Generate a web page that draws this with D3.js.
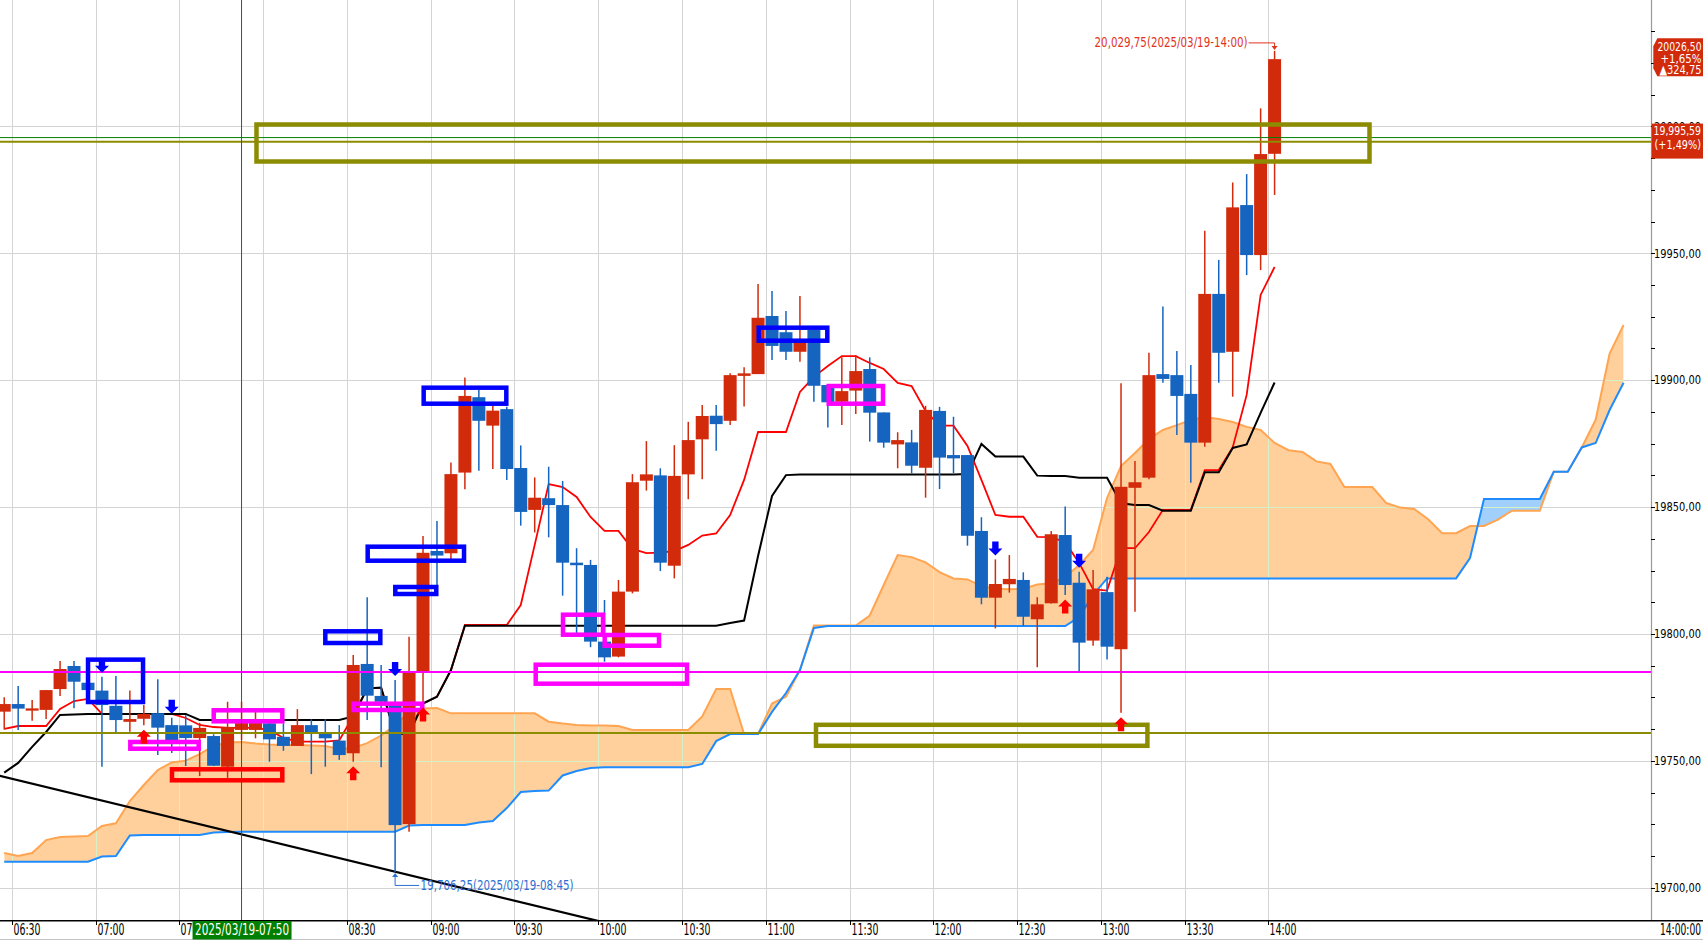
<!DOCTYPE html>
<html>
<head>
<meta charset="utf-8">
<script src="https://cdn.jsdelivr.net/npm/d3@7/dist/d3.min.js"></script>
<style>
  html, body { margin: 0; padding: 0; background: #fff; overflow: hidden; }
  svg { display: block; }
</style>
</head>
<body>
<script>
// ---- data (5 minute candles, 2025/03/19) ----
const times = ["06:25","06:30","06:35","06:40","06:45","06:50","06:55",
  "07:00","07:05","07:10","07:15","07:20","07:25","07:30","07:35","07:40","07:45","07:50","07:55",
  "08:00","08:05","08:10","08:15","08:20","08:25","08:30","08:35","08:40","08:45","08:50","08:55",
  "09:00","09:05","09:10","09:15","09:20","09:25","09:30","09:35","09:40","09:45","09:50","09:55",
  "10:00","10:05","10:10","10:15","10:20","10:25","10:30","10:35","10:40","10:45","10:50","10:55",
  "11:00","11:05","11:10","11:15","11:20","11:25","11:30","11:35","11:40","11:45","11:50","11:55",
  "12:00","12:05","12:10","12:15","12:20","12:25","12:30","12:35","12:40","12:45","12:50","12:55",
  "13:00","13:05","13:10","13:15","13:20","13:25","13:30","13:35","13:40","13:45","13:50","13:55",
  "14:00"];

const open = [19769.4,19772.4,19769.8,19770.1,19778.3,19787.4,19780.8,19777.7,19771.7,19765.4,
  19766.6,19768.8,19764.1,19764.0,19759.0,19759.8,19747.7,19762.2,19762.2,19764.8,
  19759.5,19755.9,19764.1,19761.2,19758.0,19753.0,19788.2,19775.6,19772.8,19725.1,
  19784.7,19832.7,19831.8,19863.6,19893.3,19882.1,19888.6,19865.4,19848.9,19853.5,
  19850.8,19828.1,19827.2,19797.0,19791.1,19816.7,19860.4,19862.5,19826.9,19862.9,
  19876.7,19886.0,19884.0,19901.7,19902.4,19925.3,19918.9,19911.2,19919.8,19898.1,
  19891.5,19895.9,19904.4,19887.3,19874.7,19875.5,19865.5,19887.9,19870.5,19870.5,
  19840.6,19814.3,19819.6,19821.3,19805.8,19812.1,19839.0,19820.2,19797.4,19816.5,
  19794.0,19857.6,19861.6,19902.4,19902.0,19894.6,19875.4,19934.0,19911.2,19969.0,
  19949.3,19989.2];
const high = [19775.1,19779.5,19774.0,19777.9,19789.4,19789.4,19783.5,19783.2,19783.5,19777.7,
  19772.0,19782.2,19767.0,19768.0,19765.0,19760.5,19773.3,19773.3,19769.4,19766.4,
  19764.8,19770.4,19766.4,19766.4,19764.1,19791.7,19814.5,19787.8,19781.9,19798.9,
  19838.6,19844.5,19867.6,19901.1,19896.1,19890.9,19889.5,19874.3,19861.7,19865.9,
  19860.3,19833.8,19829.2,19813.4,19821.3,19863.0,19876.0,19865.3,19874.4,19883.6,
  19890.2,19890.2,19902.7,19905.1,19937.9,19935.1,19927.3,19933.2,19920.5,19898.1,
  19909.0,19909.9,19909.0,19887.3,19879.5,19880.4,19889.9,19889.5,19885.6,19870.5,
  19846.0,19829.4,19831.1,19824.3,19814.5,19840.6,19850.2,19824.5,19825.2,19822.6,
  19898.8,19868.2,19910.8,19929.0,19911.5,19906.0,19958.9,19947.4,19977.9,19981.2,
  20007.1,20029.75];
const low = [19762.4,19762.2,19765.8,19766.5,19775.6,19770.7,19777.0,19747.7,19760.9,19761.5,
  19764.0,19752.3,19753.1,19748.0,19744.0,19748.0,19743.3,19758.2,19758.9,19749.7,
  19754.0,19755.9,19744.8,19747.7,19750.4,19749.7,19766.1,19747.5,19706.25,19722.1,
  19772.8,19818.6,19829.4,19857.0,19864.3,19865.0,19860.7,19842.7,19840.0,19838.1,
  19815.1,19799.6,19794.8,19789.1,19790.8,19816.0,19856.5,19824.8,19821.9,19853.1,
  19861.0,19872.2,19882.3,19889.6,19902.4,19908.0,19908.0,19907.3,19891.5,19881.4,
  19882.3,19886.7,19875.8,19873.4,19865.3,19863.3,19853.7,19857.1,19863.3,19834.8,
  19811.7,19802.2,19816.3,19803.2,19786.9,19812.0,19815.4,19785.1,19795.4,19790.0,
  19769.0,19808.8,19861.0,19899.0,19878.4,19859.6,19873.8,19899.0,19893.5,19941.4,
  19943.4,19973.0];
const close = [19772.4,19770.6,19770.7,19777.9,19786.2,19781.2,19777.9,19772.0,19766.1,19766.5,
  19768.5,19763.1,19758.2,19759.0,19763.0,19748.1,19763.4,19764.9,19764.9,19758.5,
  19755.9,19764.1,19761.1,19758.9,19752.3,19787.8,19775.7,19773.3,19724.7,19784.7,
  19832.0,19830.9,19863.0,19893.8,19884.0,19888.0,19865.0,19848.1,19853.7,19850.8,
  19828.1,19827.1,19797.0,19790.8,19816.7,19859.8,19862.9,19828.1,19862.3,19876.4,
  19885.9,19882.7,19902.0,19902.7,19924.6,19913.5,19911.2,19915.2,19897.8,19891.3,
  19895.7,19903.6,19887.2,19875.4,19876.4,19866.3,19888.3,19869.5,19869.2,19838.7,
  19814.3,19819.7,19821.7,19806.8,19811.7,19839.3,19819.3,19796.6,19817.6,19795.0,
  19858.0,19859.8,19902.0,19900.5,19893.8,19875.4,19934.0,19910.8,19968.1,19949.3,
  19989.1,20026.5];

// conversion line (red) and base line (black), one value per candle
const tenkan = [19762.6,19763.75,19763.75,19763.75,19770.45,19773.6,19774.4,19768.5,19768.5,19768.5,
  19768.5,19768.5,19768.5,19766.9,19764.15,19763.35,19763.0,19763.0,19763.0,19762.2,
  19759.05,19757.6,19757.6,19757.6,19758.05,19767.7,19778.7,19778.7,19760.6,19760.6,
  19772.6,19775.3,19785.8,19803.55,19803.55,19803.55,19803.55,19811.4,19835.1,19859.1,
  19857.9,19854.0,19846.1,19840.6,19840.6,19833.5,19831.9,19832.1,19832.7,19835.1,
  19838.8,19839.6,19846.9,19860.7,19879.6,19879.6,19879.6,19895.35,19901.3,19905.6,
  19909.5,19909.5,19906.8,19904.4,19898.9,19897.7,19887.9,19882.1,19882.1,19874.1,
  19860.7,19846.9,19846.2,19846.2,19838.3,19838.2,19836.2,19828.0,19817.7,19817.1,
  19833.8,19833.8,19840.2,19848.9,19848.9,19848.9,19864.6,19864.6,19873.5,19894.2,
  19933.6,19944.6];
const kijun = [19745.4,19749.2,19755.5,19761.4,19768.1,19768.3,19768.5,19768.5,19768.5,19768.5,
  19768.5,19768.5,19768.5,19768.5,19766.1,19766.1,19766.1,19766.1,19766.1,19766.1,
  19766.1,19766.1,19766.1,19766.1,19766.1,19767.5,19778.5,19778.9,19760.6,19760.6,
  19772.6,19775.3,19785.8,19803.3,19803.3,19803.3,19803.3,19803.3,19803.3,19803.3,
  19803.3,19803.3,19803.3,19803.3,19803.3,19803.3,19803.3,19803.3,19803.3,19803.3,
  19803.3,19803.3,19804.3,19805.3,19830.7,19854.4,19862.6,19862.8,19862.8,19862.8,
  19862.8,19862.8,19862.8,19862.8,19862.8,19862.8,19862.8,19862.8,19862.8,19863.0,
  19874.9,19869.9,19869.9,19869.9,19862.4,19862.3,19862.3,19861.6,19861.6,19861.6,
  19851.5,19850.8,19850.8,19848.6,19848.6,19848.6,19863.7,19863.7,19873.3,19874.7,
  19887.1,19899.1];

// leading spans (cloud), starting at the first candle and running 25 slots past the last
const spanA = [19713.7,19712.5,19713.7,19718.8,19720.0,19720.2,19720.4,19724.35,19725.4,19734.2,
  19740.5,19746.4,19749.4,19750.1,19752.7,19755.9,19757.25,19757.45,19756.9,19756.5,
  19756.3,19756.3,19756.1,19755.9,19754.7,19755.1,19757.0,19760.0,19764.0,19769.3,
  19770.65,19770.8,19768.75,19768.75,19768.75,19768.75,19768.75,19768.75,19768.75,19765.45,
  19764.7,19764.15,19763.95,19763.95,19763.75,19762.2,19762.2,19762.2,19762.2,19762.2,
  19767.5,19778.3,19778.3,19760.6,19760.6,19772.6,19775.3,19785.8,19803.35,19803.35,
  19803.35,19803.35,19807.3,19819.3,19831.1,19830.3,19828.2,19824.4,19821.9,19821.5,
  19818.9,19817.85,19817.65,19817.8,19819.5,19820.0,19822.5,19827.2,19833.1,19853.6,
  19866.2,19871.3,19876.8,19880.4,19882.3,19884.3,19885.5,19884.7,19883.5,19881.6,
  19880.4,19875.3,19872.4,19871.7,19868.0,19867.0,19857.9,19857.9,19857.9,19851.6,
  19849.8,19849.25,19845.2,19839.7,19839.7,19842.55,19842.55,19845.1,19848.6,19848.6,
  19848.6,19863.95,19863.95,19873.4,19884.4,19910.5,19921.75];
const spanB = [19710.3,19710.3,19710.3,19710.3,19710.3,19710.3,19710.3,19712.3,19712.5,19720.6,
  19720.8,19720.8,19720.8,19720.8,19720.8,19721.8,19722.0,19722.1,19722.1,19722.1,
  19722.1,19722.1,19722.1,19722.1,19722.1,19722.1,19722.1,19722.1,19722.1,19724.55,
  19724.75,19724.75,19724.75,19724.75,19725.7,19726.3,19731.4,19737.75,19738.1,19738.3,
  19744.25,19746.0,19747.2,19747.5,19747.5,19747.5,19747.5,19747.5,19747.5,19747.5,
  19748.8,19757.8,19760.6,19760.6,19760.6,19769.3,19776.75,19785.8,19802.4,19803.15,
  19803.15,19803.15,19803.15,19803.15,19803.15,19803.15,19803.15,19803.15,19803.15,19803.15,
  19803.15,19803.15,19803.15,19803.15,19803.15,19803.15,19803.15,19806.7,19815.4,19821.9,
  19821.9,19821.9,19821.9,19821.9,19821.9,19821.9,19821.9,19821.9,19821.9,19821.9,
  19821.9,19821.9,19821.9,19821.9,19821.9,19821.9,19821.9,19821.9,19821.9,19821.9,
  19821.9,19821.9,19821.9,19821.9,19821.9,19829.95,19853.2,19853.2,19853.2,19853.2,
  19853.2,19863.95,19863.95,19873.5,19875.25,19888.25,19899.0];

const yTicks = [19700, 19750, 19800, 19850, 19900, 19950, 20000];
const xTicks = ["06:30","07:00","07:30","08:00","08:30","09:00","09:30","10:00",
  "10:30","11:00","11:30","12:00","12:30","13:00","13:30","14:00"];

// signal arrows
const sigUp = ["07:15","08:30","08:55","12:45","13:05"];
const sigDown = ["07:00","07:25","08:45","12:20","12:50"];

// drawn boxes (time range, price range, kind)
const boxes = [
  {t0:"06:57:16", t1:"07:16:58", p0:19773.2,  p1:19789.9,  kind:"blue"},
  {t0:"07:12:25", t1:"07:36:54", p0:19754.8,  p1:19757.45, kind:"magenta"},
  {t0:"07:27:20", t1:"08:06:51", p0:19742.36, p1:19746.69, kind:"red"},
  {t0:"07:42:17", t1:"08:06:51", p0:19765.6,  p1:19769.94, kind:"magenta"},
  {t0:"08:22:15", t1:"08:41:57", p0:19796.45, p1:19801.06, kind:"blue"},
  {t0:"08:32:25", t1:"08:56:59", p0:19770.06, p1:19772.54, kind:"magenta"},
  {t0:"08:47:19", t1:"09:02:00", p0:19815.76, p1:19818.52, kind:"blue"},
  {t0:"08:37:26", t1:"09:11:56", p0:19828.88, p1:19834.4,  kind:"blue"},
  {t0:"08:57:29", t1:"09:27:05", p0:19890.74, p1:19897.05, kind:"blue"},
  {t0:"09:47:23", t1:"10:01:43", p0:19799.72, p1:19807.6,  kind:"magenta"},
  {t0:"10:02:19", t1:"10:21:46", p0:19795.39, p1:19799.61, kind:"magenta"},
  {t0:"09:37:37", t1:"10:31:48", p0:19780.42, p1:19787.9,  kind:"magenta"},
  {t0:"10:57:29", t1:"11:22:03", p0:19915.56, p1:19920.69, kind:"blue"},
  {t0:"11:22:33", t1:"11:42:00", p0:19890.74, p1:19897.71, kind:"magenta"},
  {t0:"07:57:36", t1:"14:36:15", p0:19986.17, p1:20000.75, kind:"olive"},
  {t0:"11:18:00", t1:"13:16:42", p0:19755.95, p1:19764.22, kind:"olive"}
];
// horizontal levels
const levels = [
  {p:19785.03, kind:"magenta"},
  {p:19761.0,  kind:"olive"},
  {p:19994.0,  kind:"olive"},
  {p:19995.59, kind:"green"}
];
// trend line anchors
const trend = [["06:25", 19744.3], ["10:05", 19685.6]];

const lastPrice = 20026.5, lastChangePct = "+1,65%", lastChange = "▲324,75";
const markPrice = 19995.59, markPct = "(+1,49%)";
const crossTime = "07:50";

// ---- layout ----
const W = 1703, H = 940, PLOT_R = 1651, PLOT_B = 920;
const COL = {blue:"#0000ff", magenta:"#ff00ff", red:"#ff0000", olive:"#8c8c00", green:"#008000"};
const UP = "#d22b0c", DOWN = "#1565c0";
const FONT = "'DejaVu Sans Condensed','DejaVu Sans',sans-serif";

const toMin = s => { const p = s.split(":").map(Number); return p[0] * 60 + p[1] + (p[2] || 0) / 60; };
const fmtAxis = v => v.toFixed(2).replace(".", ",");

const x = d3.scaleLinear().domain([toMin("06:30"), toMin("14:00")]).range([11.9, 1268.3]);
const y = d3.scaleLinear().domain([19700, 20000]).range([887.8, 126.4]);
const HALF = 2.25;                      // candle centre sits just inside its 5 minute slot
const t0 = toMin(times[0]);
const cx = i => x(t0 + 5 * i + HALF);

const svg = d3.select("body").append("svg").attr("width", W).attr("height", H)
  .style("font-family", FONT);
const defs = svg.append("defs");
defs.append("clipPath").attr("id", "clipPlot")
  .append("rect").attr("x", 0).attr("y", 0).attr("width", PLOT_R).attr("height", PLOT_B);

const cloudIdx = d3.range(spanA.length);
const areaAB = d3.area().x(j => cx(j)).y0(j => y(spanB[j])).y1(j => y(spanA[j]));
const areaUp = d3.area().x(j => cx(j)).y0(0).y1(j => y(spanB[j]));
const areaDn = d3.area().x(j => cx(j)).y0(PLOT_B).y1(j => y(spanB[j]));
defs.append("clipPath").attr("id", "clipAbove").append("path").attr("d", areaUp(cloudIdx));
defs.append("clipPath").attr("id", "clipBelow").append("path").attr("d", areaDn(cloudIdx));
defs.append("clipPath").attr("id", "clipCloud").append("path").attr("d", areaAB(cloudIdx));

const plot = svg.append("g").attr("clip-path", "url(#clipPlot)");

// grid
function drawGrid(g, color) {
  g.attr("stroke", color).attr("stroke-width", 1).attr("shape-rendering", "crispEdges");
  xTicks.forEach(t => {
    const xx = Math.round(x(toMin(t))) + 0.5;
    g.append("line").attr("x1", xx).attr("x2", xx).attr("y1", 0).attr("y2", PLOT_B);
  });
  yTicks.forEach(v => {
    const yy = Math.round(y(v)) + 0.5;
    g.append("line").attr("x1", 0).attr("x2", PLOT_R).attr("y1", yy).attr("y2", yy);
  });
}
drawGrid(plot.append("g"), "#d4d4d4");

// cloud
plot.append("path").attr("d", areaAB(cloudIdx)).attr("fill", "#ffd09c").attr("clip-path", "url(#clipAbove)");
plot.append("path").attr("d", areaAB(cloudIdx)).attr("fill", "#a2d0fc").attr("clip-path", "url(#clipBelow)");
drawGrid(plot.append("g").attr("clip-path", "url(#clipCloud)"), "#d8f0c6");

const lineOf = arr => d3.line().x((d, i) => cx(i)).y(d => y(d))(arr);
plot.append("path").attr("d", lineOf(spanA)).attr("fill", "none").attr("stroke", "#ffa552").attr("stroke-width", 2);
plot.append("path").attr("d", lineOf(spanB)).attr("fill", "none").attr("stroke", "#1e8cff").attr("stroke-width", 2);

// trend line
plot.append("line")
  .attr("x1", x(toMin(trend[0][0]))).attr("y1", y(trend[0][1]))
  .attr("x2", x(toMin(trend[1][0]))).attr("y2", y(trend[1][1]))
  .attr("stroke", "#000").attr("stroke-width", 2.2);

// conversion & base lines
plot.append("path").attr("d", lineOf(tenkan)).attr("fill", "none").attr("stroke", "#ff0000").attr("stroke-width", 1.8);
plot.append("path").attr("d", lineOf(kijun)).attr("fill", "none").attr("stroke", "#000").attr("stroke-width", 2);

// candles
const candles = plot.append("g");
times.forEach((t, i) => {
  const c = close[i] >= open[i] ? UP : DOWN;
  const xc = cx(i);
  candles.append("line").attr("x1", xc).attr("x2", xc)
    .attr("y1", y(high[i])).attr("y2", y(low[i]))
    .attr("stroke", c).attr("stroke-width", 1.5);
  const top = y(Math.max(open[i], close[i])), bot = y(Math.min(open[i], close[i]));
  candles.append("rect").attr("x", xc - 6.5).attr("width", 13)
    .attr("y", top).attr("height", Math.max(1.5, bot - top)).attr("fill", c);
});

// horizontal levels
levels.forEach(l => {
  plot.append("line").attr("x1", 0).attr("x2", PLOT_R).attr("y1", y(l.p)).attr("y2", y(l.p))
    .attr("stroke", COL[l.kind]).attr("stroke-width", l.kind === "green" ? 1 : 2);
});

// boxes
boxes.forEach(b => {
  const x0 = x(toMin(b.t0)), x1 = x(toMin(b.t1));
  const y0 = y(b.p1), y1 = y(b.p0);
  plot.append("rect").attr("x", x0).attr("y", y0).attr("width", x1 - x0).attr("height", y1 - y0)
    .attr("fill", "none").attr("stroke", COL[b.kind]).attr("stroke-width", 4.5);
});

// arrows
function arrowPath(xc, tip, dir) {
  const hw = 7, sw = 3.2, hh = 7, sh = 7;
  const b = tip - dir * hh, e = tip - dir * (hh + sh);
  return `M${xc},${tip}L${xc - hw},${b}L${xc - sw},${b}L${xc - sw},${e}L${xc + sw},${e}L${xc + sw},${b}L${xc + hw},${b}Z`;
}
sigDown.forEach(t => {
  const i = times.indexOf(t);
  plot.append("path").attr("d", arrowPath(cx(i), y(high[i]) - 4, 1)).attr("fill", "#0000ff");
});
sigUp.forEach(t => {
  const i = times.indexOf(t);
  plot.append("path").attr("d", arrowPath(cx(i), y(low[i]) + 4.5, -1)).attr("fill", "#ff0000");
});

// crosshair
const crossX = cx(times.indexOf(crossTime));
plot.append("line").attr("x1", crossX).attr("x2", crossX).attr("y1", 0).attr("y2", PLOT_B)
  .attr("stroke", COL.green).attr("stroke-width", 1);

// high / low annotations
const hiI = high.indexOf(d3.max(high)), loI = low.indexOf(d3.min(low));
const hx = cx(hiI), hy = y(high[hiI]);
const hiCol = "#e0341e";
plot.append("path").attr("d", `M${hx - 26},${hy - 8}H${hx}V${hy - 3}`)
  .attr("fill", "none").attr("stroke", hiCol).attr("stroke-width", 1);
plot.append("path").attr("d", `M${hx - 3},${hy - 5}L${hx + 3},${hy - 5}L${hx},${hy - 1}Z`).attr("fill", hiCol);
plot.append("text").attr("x", hx - 180).attr("y", hy - 3.5)
  .attr("textLength", 153).attr("lengthAdjust", "spacingAndGlyphs")
  .attr("font-size", 13.5).attr("fill", hiCol)
  .text(`${d3.format(",.2f")(high[hiI]).replace(".", ",")}(2025/03/19-${times[hiI]})`);

const lx = cx(loI), ly = y(low[loI]);
const loCol = "#2a6fd4";
plot.append("path").attr("d", `M${lx},${ly + 3}V${ly + 13.5}H${lx + 24}`)
  .attr("fill", "none").attr("stroke", loCol).attr("stroke-width", 1);
plot.append("path").attr("d", `M${lx - 3},${ly + 5}L${lx + 3},${ly + 5}L${lx},${ly + 1}Z`).attr("fill", loCol);
plot.append("text").attr("x", lx + 25.5).attr("y", ly + 18)
  .attr("textLength", 153).attr("lengthAdjust", "spacingAndGlyphs")
  .attr("font-size", 13.5).attr("fill", loCol)
  .text(`${d3.format(",.2f")(low[loI]).replace(".", ",")}(2025/03/19-${times[loI]})`);

// ---- right axis ----
const ax = svg.append("g");
ax.append("line").attr("x1", PLOT_R + 0.5).attr("x2", PLOT_R + 0.5).attr("y1", 0).attr("y2", PLOT_B)
  .attr("stroke", "#999").attr("stroke-width", 1.2);
d3.range(19687.5, 20050, 12.5).forEach(v => {
  const yy = Math.round(y(v)) + 0.5;
  ax.append("line").attr("x1", PLOT_R).attr("x2", PLOT_R + 4).attr("y1", yy).attr("y2", yy)
    .attr("stroke", "#000").attr("stroke-width", 1).attr("shape-rendering", "crispEdges");
});
yTicks.forEach(v => {
  ax.append("text").attr("x", PLOT_R + 3).attr("y", y(v) + 4.2)
    .attr("font-size", 11.5).attr("fill", "#000")
    .attr("textLength", 47).attr("lengthAdjust", "spacingAndGlyphs")
    .text(fmtAxis(v));
});

// mark price tag
const my = y(markPrice);
ax.append("rect").attr("x", PLOT_R + 0.7).attr("y", my - 14).attr("width", W - PLOT_R).attr("height", 35).attr("fill", UP);
ax.append("text").attr("x", 1653.5).attr("y", my - 2.3).attr("font-size", 13).attr("fill", "#fff")
  .attr("textLength", 47.5).attr("lengthAdjust", "spacingAndGlyphs")
  .text(d3.format(",.2f")(markPrice).replace(".", ","));
ax.append("text").attr("x", 1654.5).attr("y", my + 11.5).attr("font-size", 13).attr("fill", "#fff")
  .attr("textLength", 46.5).attr("lengthAdjust", "spacingAndGlyphs").text(markPct);

// last price tag
const py = y(lastPrice);
ax.append("path")
  .attr("d", `M1657.3,${py - 21}L1653.3,${py - 13}V${py + 9}L1657.3,${py + 17}H${W}V${py - 21}Z`)
  .attr("fill", UP);
[[fmtAxis(lastPrice), 1657.5, 44, -8.5], [lastChangePct, 1660.5, 41, 3.5], [lastChange, 1659.5, 42, 15]]
  .forEach(([s, xx, len, dy]) => {
    ax.append("text").attr("x", xx).attr("y", py + dy).attr("font-size", 13).attr("fill", "#fff")
      .attr("textLength", len).attr("lengthAdjust", "spacingAndGlyphs").text(s);
  });

// ---- bottom axis ----
const bx = svg.append("g");
bx.append("line").attr("x1", 0).attr("x2", W).attr("y1", PLOT_B + 0.75).attr("y2", PLOT_B + 0.75)
  .attr("stroke", "#000").attr("stroke-width", 1.5);
bx.append("line").attr("x1", 0).attr("x2", W).attr("y1", H - 0.5).attr("y2", H - 0.5)
  .attr("stroke", "#c4c4c4").attr("stroke-width", 1);
const crossM = toMin(crossTime);
xTicks.forEach(t => {
  const xx = Math.round(x(toMin(t))) + 0.5;
  bx.append("line").attr("x1", xx).attr("x2", xx).attr("y1", PLOT_B).attr("y2", PLOT_B + 5)
    .attr("stroke", "#000").attr("stroke-width", 1).attr("shape-rendering", "crispEdges");
  // labels fully covered by the crosshair time tag are not shown
  if (Math.abs(toMin(t) - crossM) < 15) return;
  bx.append("text").attr("x", xx + 1).attr("y", 935).attr("font-size", 15).attr("fill", "#000")
    .attr("textLength", 27).attr("lengthAdjust", "spacingAndGlyphs").text(t);
});
bx.append("text").attr("x", 1660).attr("y", 935).attr("font-size", 15).attr("fill", "#000")
  .attr("textLength", 41).attr("lengthAdjust", "spacingAndGlyphs").text(xTicks[xTicks.length - 1] + ":00");

// crosshair time tag
bx.append("rect").attr("x", crossX - 49).attr("y", PLOT_B + 1).attr("width", 99).attr("height", 18.5)
  .attr("fill", COL.green);
bx.append("text").attr("x", crossX - 46.5).attr("y", 935).attr("font-size", 15).attr("fill", "#fff")
  .attr("textLength", 94).attr("lengthAdjust", "spacingAndGlyphs").text("2025/03/19-" + crossTime);
</script>
</body>
</html>
